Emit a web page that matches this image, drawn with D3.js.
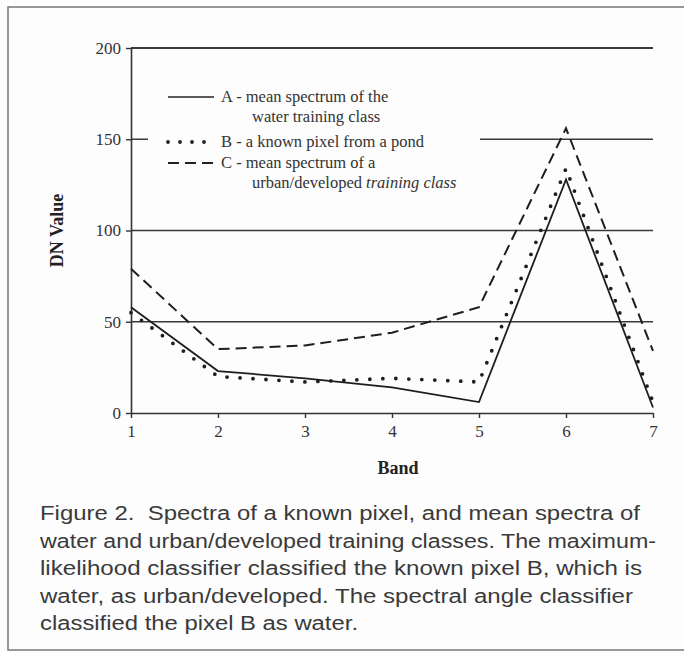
<!DOCTYPE html>
<html>
<head>
<meta charset="utf-8">
<script src="https://cdnjs.cloudflare.com/ajax/libs/d3/7.8.5/d3.min.js"></script>
<style>
  body { margin: 0; background: #fdfdfd; }
  .tickText { font-family: "Liberation Serif", "Times New Roman", serif; font-size: 17px; fill: #333; }
  .axisTitle { font-family: "Liberation Serif", "Times New Roman", serif; font-size: 18px; font-weight: bold; fill: #222; }
  .legendText { font-family: "Liberation Serif", "Times New Roman", serif; font-size: 16.5px; fill: #333; }
  .captionText { font-family: "Liberation Sans", Arial, sans-serif; font-size: 20px; fill: #3a3a3a; white-space: pre; }
</style>
</head>
<body>
<div id="chart" style="width:684px;height:653px"></div>
<script>
// values
const bands = [1, 2, 3, 4, 5, 6, 7];
const waterMean = [58, 23, 19, 14, 6, 128, 3];    // A
const pondPixel = [55, 20, 17, 19, 17, 134, 6];   // B
const urbanMean = [79, 35, 37, 44, 58, 156, 34];  // C
const yTicks = [0, 50, 100, 150, 200];
const gridValues = [50, 100, 150, 200];

const legendLines = [
	"A - mean spectrum of the",
	"water training class",
	"B - a known pixel from a pond",
	"C - mean spectrum of a",
	"urban/developed "
];
const captionLines = [
	"Figure 2.  Spectra of a known pixel, and mean spectra of",
	"water and urban/developed training classes. The maximum-",
	"likelihood classifier classified the known pixel B, which is",
	"water, as urban/developed. The spectral angle classifier",
	"classified the pixel B as water."
];
const captionWidths = [600, 616, 602, 593, 318];

function drawSpectra(eleID) {

	const width = 684;
	const height = 653;

	var svg = d3.select(eleID).append("svg")
		.attr("width", width)
		.attr("height", height);

	// frame
	svg.append("rect")
		.attr("x", 8).attr("y", 7)
		.attr("width", 700).attr("height", 643)
		.attr("fill", "none")
		.attr("stroke", "#777")
		.attr("stroke-width", 1.5);

	var x = d3.scaleLinear().domain([1, 7]).range([131, 653]);
	var y = d3.scaleLinear().domain([0, 200]).range([413, 48]);

	// gridlines
	svg.selectAll(".grid")
		.data(gridValues)
		.enter().append("line")
		.attr("x1", x(1)).attr("x2", x(7))
		.attr("y1", d => y(d)).attr("y2", d => y(d))
		.attr("stroke", "#3a3a3a")
		.attr("stroke-width", d => d === 200 ? 1.8 : 1.4);

	// axes
	var yAxis = svg.append("g")
		.attr("transform", "translate(" + x(1) + ",0)")
		.call(d3.axisLeft(y).tickValues(yTicks).tickSize(5).tickPadding(5).tickSizeOuter(0));
	var xAxis = svg.append("g")
		.attr("transform", "translate(0," + y(0) + ")")
		.call(d3.axisBottom(x).tickValues(bands).tickFormat(d3.format("d")).tickSize(5).tickPadding(7).tickSizeOuter(0));

	[yAxis, xAxis].forEach(function (g) {
		g.attr("font-family", null).attr("font-size", null);
		g.select(".domain").attr("stroke", "#333").attr("stroke-width", 1.6);
		g.selectAll(".tick line").attr("stroke", "#333").attr("stroke-width", 1.4);
		g.selectAll(".tick text").attr("class", "tickText");
	});

	// axis titles
	svg.append("text")
		.attr("class", "axisTitle")
		.attr("text-anchor", "middle")
		.attr("transform", "translate(63," + y(100) + ") rotate(-90)")
		.text("DN Value");
	svg.append("text")
		.attr("class", "axisTitle")
		.attr("text-anchor", "middle")
		.attr("x", 398).attr("y", 474)
		.text("Band");

	// legend (white box hides the 150 gridline)
	svg.append("rect")
		.attr("x", 148).attr("y", 80)
		.attr("width", 332).attr("height", 118)
		.attr("fill", "#fdfdfd");

	var legendKeys = [
		{ y: 97, dash: null, width: 1.6, cap: "butt" },
		{ y: 142, dash: "0 12", width: 3.8, cap: "round" },
		{ y: 163, dash: "11 6", width: 2, cap: "butt" }
	];
	svg.selectAll(".legendKey")
		.data(legendKeys)
		.enter().append("line")
		.attr("x1", 168).attr("x2", 214)
		.attr("y1", d => d.y).attr("y2", d => d.y)
		.attr("stroke", "#222")
		.attr("stroke-width", d => d.width)
		.attr("stroke-dasharray", d => d.dash)
		.attr("stroke-linecap", d => d.cap);

	var legendPos = [[221, 102], [252, 122], [221, 147], [221, 168], [252, 188]];
	legendLines.forEach(function (t, i) {
		var txt = svg.append("text")
			.attr("class", "legendText")
			.attr("x", legendPos[i][0]).attr("y", legendPos[i][1])
			.text(t);
		if (i === 4) txt.append("tspan").attr("font-style", "italic").text("training class");
	});

	// series
	var line = d3.line().x((d, i) => x(bands[i])).y(d => y(d));
	var series = [
		{ values: urbanMean, dash: "11 6", width: 2, cap: "butt" },
		{ values: pondPixel, dash: "0 13", width: 3.8, cap: "round" },
		{ values: waterMean, dash: null, width: 1.8, cap: "butt" }
	];
	svg.selectAll(".series")
		.data(series)
		.enter().append("path")
		.attr("d", d => line(d.values))
		.attr("fill", "none")
		.attr("stroke", "#1e1e1e")
		.attr("stroke-width", d => d.width)
		.attr("stroke-dasharray", d => d.dash)
		.attr("stroke-linecap", d => d.cap)
		.attr("stroke-linejoin", "miter");

	// caption
	captionLines.forEach(function (t, i) {
		svg.append("text")
			.attr("class", "captionText")
			.attr("x", 40).attr("y", 520 + i * 27.5)
			.attr("textLength", captionWidths[i])
			.attr("lengthAdjust", "spacingAndGlyphs")
			.text(t);
	});
}

drawSpectra("#chart");
</script>
</body>
</html>
